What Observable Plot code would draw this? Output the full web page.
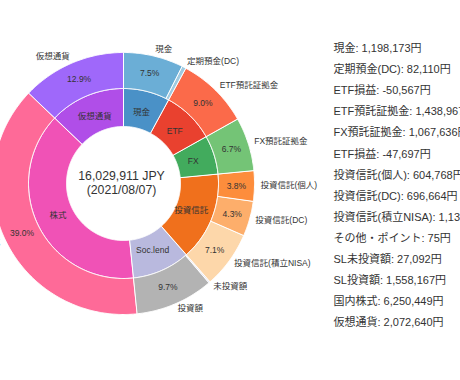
<!DOCTYPE html>
<html><head><meta charset="utf-8">
<script src="https://cdn.jsdelivr.net/npm/d3@7"></script>
<script src="https://cdn.jsdelivr.net/npm/@observablehq/plot@0.6"></script>
<style>html,body{margin:0;padding:0;background:#fff;overflow:hidden;}</style>
</head><body><div id="chart"></div>
<script>
// ---- data ----
const asOfDate = "2021/08/07";
const currency = "JPY";
const legendNames = ["現金","定期預金(DC)","ETF損益","ETF預託証拠金","FX預託証拠金","ETF損益","投資信託(個人)","投資信託(DC)","投資信託(積立NISA)","その他・ポイント","SL未投資額","SL投資額","国内株式","仮想通貨"];
const legendValues = [1198173, 82110, -50567, 1438967, 1067636, -47697, 604768, 696664, 1131434, 75, 27092, 1558167, 6250449, 2072640];

const groupNames = ["現金","ETF","FX","投資信託","Soc.lend","株式","仮想通貨"];
const sliceNames = ["現金","定期預金(DC)","ETF預託証拠金","FX預託証拠金","投資信託(個人)","投資信託(DC)","投資信託(積立NISA)","未投資額","投資額","株式","仮想通貨"];
const sliceValues = [1198173, 82110, 1438967, 1067636, 604768, 696664, 1131434, 27092, 1558167, 6250449, 2072640];
const sliceGroups = [0, 0, 1, 2, 3, 3, 3, 4, 4, 5, 6];

// ---- palette ----
const groupColors = ["#4a91c7","#e9412f","#42ab5d","#f0701c","#b9b9de","#f052b6","#b04ee8"];
const sliceColors = ["#6baed6","#9ecae1","#fb6a4a","#74c476","#fd8d3c","#fdae6b","#fdd7aa","#dcdcf0","#b3b3b3","#fe6a98","#9f68fa"];

// ---- layout ----
const W = 460, H = 380, cx = 123, cy = 183, rHole = 57, rMid = 95, rOut = 131;
const total = d3.sum(legendValues);
const ringTotal = d3.sum(sliceValues);
const fmt = v => v.toLocaleString("en-US");

let acc = 0;
const slices = sliceNames.map((name, i) => {
  const a0 = acc / ringTotal * 2 * Math.PI; acc += sliceValues[i];
  const a1 = acc / ringTotal * 2 * Math.PI;
  return {name, value: sliceValues[i], a0, a1, mid: (a0 + a1) / 2, color: sliceColors[i], group: sliceGroups[i],
          pct: sliceValues[i] / total * 100};
});
const groups = groupNames.map((name, g) => {
  const m = slices.filter(s => s.group === g);
  const a0 = m[0].a0, a1 = m[m.length - 1].a1;
  return {name, a0, a1, mid: (a0 + a1) / 2, color: groupColors[g]};
});

const px = (a, r) => cx + r * Math.sin(a);
const py = (a, r) => cy - r * Math.cos(a);

function arcPoly(key, a0, a1, ri, ro, color) {
  const n = Math.max(2, Math.ceil((a1 - a0) / (Math.PI / 360)));
  const pts = [];
  for (let k = 0; k <= n; k++) { const a = a0 + (a1 - a0) * k / n; pts.push({key, color, x: px(a, ro), y: py(a, ro)}); }
  for (let k = n; k >= 0; k--) { const a = a0 + (a1 - a0) * k / n; pts.push({key, color, x: px(a, ri), y: py(a, ri)}); }
  return pts;
}
const polys = [
  ...groups.flatMap(g => arcPoly("in:" + g.name, g.a0, g.a1, rHole, rMid, g.color)),
  ...slices.flatMap(s => arcPoly("out:" + s.name, s.a0, s.a1, rMid, rOut, s.color))
];

const rLabel = 137, rPct = 113, rInner = 73;
const rightLabels = slices.filter(s => s.mid < Math.PI);
const leftLabels = slices.filter(s => s.mid >= Math.PI);
const pctLabels = slices.filter(s => s.pct >= 1);
const legendRows = legendNames.map((n, i) => ({i, text: `${n}: ${fmt(legendValues[i])}円`}));
const centerLines = [`${fmt(total)} ${currency}`, `(${asOfDate})`];

const font = "'Liberation Sans','Noto Sans CJK JP',sans-serif";
const txt = "#333";

const chart = Plot.plot({
  width: W, height: H, margin: 0,
  x: {domain: [0, W], range: [0, W], axis: null},
  y: {domain: [0, H], range: [0, H], axis: null},
  color: {type: "identity"},
  style: {fontFamily: font, background: "#fff"},
  marks: [
    Plot.line(polys, {x: "x", y: "y", z: "key", fill: "color", stroke: "white", strokeWidth: 1, curve: "linear-closed"}),
    Plot.text(rightLabels, {x: d => px(d.mid, rLabel), y: d => py(d.mid, rLabel) - 1, text: "name", textAnchor: "start", fontSize: 8.5, fill: txt}),
    Plot.text(leftLabels, {x: d => px(d.mid, rLabel), y: d => py(d.mid, rLabel) - 1, text: "name", textAnchor: "end", fontSize: 8.5, fill: txt}),
    Plot.text(pctLabels, {x: d => px(d.mid, rPct), y: d => py(d.mid, rPct), text: d => d.pct.toFixed(1) + "%", fontSize: 8.5, fill: txt}),
    Plot.text(groups, {x: d => px(d.mid, rInner), y: d => py(d.mid, rInner), text: "name", fontSize: 8.5, fill: txt}),
    Plot.text(centerLines, {x: cx - 2, y: (d, i) => cy - 7 + i * 14, text: d => d, fontSize: 12.3, fill: txt}),
    Plot.text(legendRows, {x: 333, y: d => 48 + d.i * 21.1, text: "text", textAnchor: "start", fontSize: 11, fill: txt})
  ]
});
document.getElementById("chart").appendChild(chart);
</script>
</body></html>
